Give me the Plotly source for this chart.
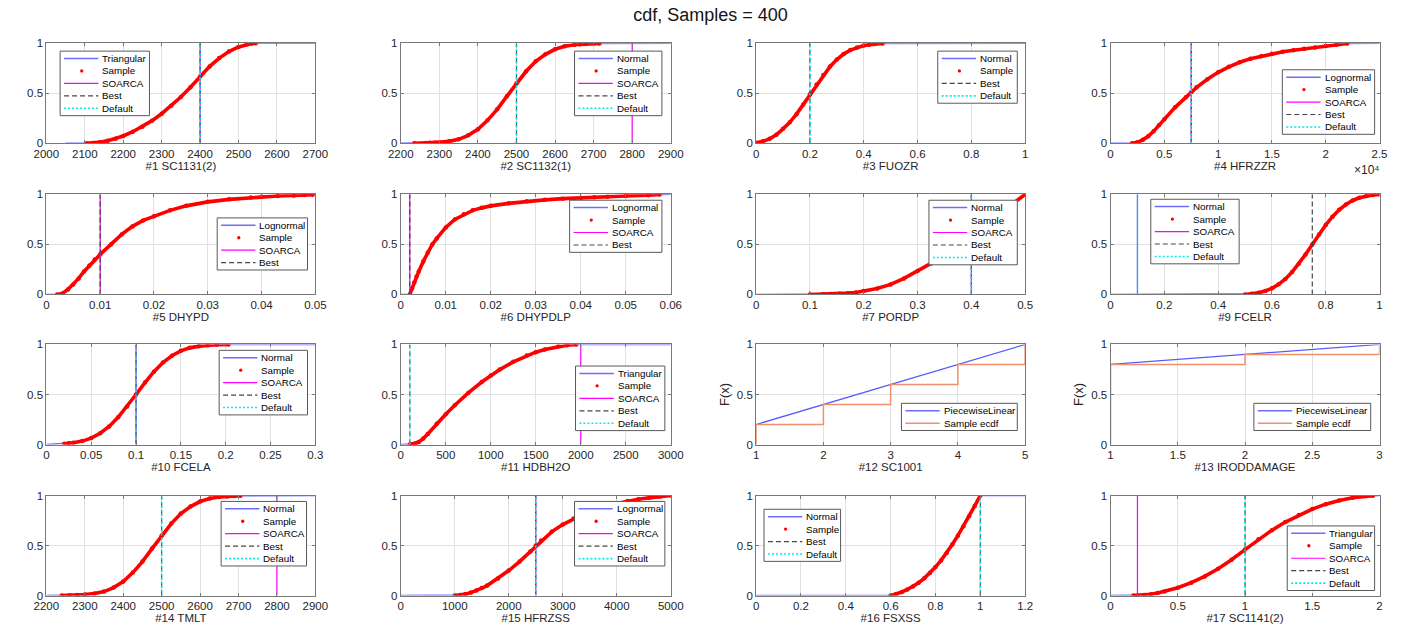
import plotly.graph_objects as go

W, H = 1421, 633

# ------------------------------------------------------------------ data
titles = ["#1 SC1131(2)", "#2 SC1132(1)", "#3 FUOZR", "#4 HFRZZR",
          "#5 DHYPD", "#6 DHYPDLP", "#7 PORDP", "#9 FCELR",
          "#10 FCELA", "#11 HDBH2O", "#12 SC1001", "#13 IRODDAMAGE",
          "#14 TMLT", "#15 HFRZSS", "#16 FSXSS", "#17 SC1141(2)"]
dist_names = ["Triangular", "Normal", "Normal", "Lognormal",
              "Lognormal", "Lognormal", "Normal", "Normal",
              "Normal", "Triangular", "PiecewiseLinear", "PiecewiseLinear",
              "Normal", "Lognormal", "Normal", "Triangular"]
x_min = [2000, 2200, 0, 0, 0, 0, 0, 0, 0, 0, 1, 1, 2200, 0, 0, 0]
x_max = [2700, 2900, 1, 25000, 0.05, 0.06, 0.5, 1, 0.3, 3000, 5, 3, 2900, 5000, 1.2, 2]
x_step = [100, 100, 0.2, 5000, 0.01, 0.01, 0.1, 0.2, 0.05, 500, 1, 0.5, 100, 1000, 0.2, 0.5]
dist_start = [2050, 2200, 0, 0, 0, 0, 0, 0, 0, 0, None, None, 2200, 0, 0, 0]

soarca = [2400, 2800, None, 7500, 0.01, 0.002, 0.4, 0.1, 0.1, 2000, None, None, 2800, 2500, None, 0.2]
best = [2400, 2500, 0.2, 7500, 0.01, 0.002, 0.4, 0.75, 0.1, 100, None, None, 2500, 2500, 1.0, 1.0]
default = [2400, 2500, 0.2, 7500, None, None, 0.4, 0.1, 0.1, 100, None, None, 2500, 2500, 1.0, 1.0]

y_ticks = [0, 0.5, 1]
y_ticktext = ["0", "0.5", "1"]
p4_ticks = [0, 5000, 10000, 15000, 20000, 25000]
p4_ticktext = ["0", "0.5", "1", "1.5", "2", "2.5"]
p4_exponent = "\u00d710\u2074"

p1_x = [2105, 2120, 2140, 2160, 2180, 2200, 2225, 2250, 2275, 2300, 2325, 2350, 2375, 2400,
        2425, 2450, 2475, 2500, 2520, 2535, 2545]
p1_F = [0.0, 0.003, 0.012, 0.027, 0.047, 0.074, 0.116, 0.167, 0.227, 0.296, 0.375, 0.463, 0.56, 0.667,
        0.769, 0.852, 0.917, 0.963, 0.987, 0.997, 1.0]

p2_x = [2235, 2265, 2275, 2290, 2300, 2325, 2350, 2375, 2400, 2425, 2450, 2475, 2500, 2525,
        2550, 2575, 2600, 2625, 2650, 2665, 2680, 2700, 2715]
p2_F = [0.001, 0.003, 0.005, 0.008, 0.011, 0.02, 0.04, 0.08, 0.14, 0.23, 0.34, 0.47, 0.60, 0.72,
        0.82, 0.89, 0.94, 0.97, 0.985, 0.99, 0.994, 0.997, 0.999]

p3_x = [0, 0.025, 0.05, 0.075, 0.1, 0.125, 0.15, 0.175, 0.2, 0.225, 0.25, 0.275, 0.3, 0.325,
        0.35, 0.375, 0.4, 0.42, 0.44, 0.47]
p3_F = [0.005, 0.02, 0.045, 0.085, 0.145, 0.21, 0.292, 0.387, 0.49, 0.589, 0.684, 0.768, 0.838, 0.892,
        0.932, 0.959, 0.977, 0.986, 0.992, 0.997]

p4_x = [2000, 2500, 3000, 3500, 4000, 4500, 5000, 6000, 7000, 7500, 8000, 9000, 10000, 11000,
        12000, 13000, 14000, 15000, 16000, 17000, 18000, 19000, 20000, 21000, 22000]
p4_F = [0.0, 0.01, 0.035, 0.07, 0.12, 0.18, 0.24, 0.36, 0.46, 0.51, 0.56, 0.64, 0.71, 0.765,
        0.81, 0.845, 0.87, 0.895, 0.915, 0.93, 0.945, 0.957, 0.972, 0.985, 0.997]

p5_x = [0.002, 0.003, 0.004, 0.005, 0.006, 0.007, 0.008, 0.009, 0.01, 0.012, 0.014, 0.016, 0.018,
        0.02, 0.023, 0.026, 0.03, 0.034, 0.038, 0.04, 0.043, 0.046, 0.048, 0.0495]
p5_F = [0.0, 0.01, 0.05, 0.1, 0.16, 0.23, 0.29, 0.35, 0.40, 0.5, 0.6, 0.68, 0.74,
        0.78, 0.84, 0.885, 0.925, 0.95, 0.968, 0.976, 0.983, 0.988, 0.993, 0.997]

p6_x = [0.002, 0.0025, 0.003, 0.0035, 0.004, 0.005, 0.006, 0.007, 0.008, 0.01, 0.012, 0.014, 0.016,
        0.018, 0.02, 0.024, 0.028, 0.032, 0.036, 0.04, 0.043, 0.046, 0.05, 0.055, 0.0575]
p6_F = [0.0, 0.06, 0.12, 0.18, 0.23, 0.33, 0.42, 0.5, 0.56, 0.67, 0.75, 0.8, 0.84,
        0.865, 0.885, 0.91, 0.93, 0.945, 0.957, 0.967, 0.972, 0.977, 0.984, 0.992, 0.998]

p7_x = [0.1, 0.125, 0.14, 0.155, 0.17, 0.185, 0.2, 0.225, 0.25, 0.275, 0.3, 0.325, 0.35, 0.375,
        0.4, 0.425, 0.45, 0.475, 0.5]
p7_F = [0.0, 0.003, 0.005, 0.008, 0.013, 0.02, 0.035, 0.06, 0.1, 0.16, 0.235, 0.31, 0.4, 0.5,
        0.6, 0.7, 0.8, 0.9, 1.0]

p9_x = [0.5, 0.525, 0.55, 0.575, 0.6, 0.625, 0.65, 0.675, 0.7, 0.725, 0.75, 0.775, 0.8, 0.825,
        0.85, 0.875, 0.9, 0.925, 0.95, 0.975, 1.0]
p9_F = [0.0, 0.006, 0.017, 0.034, 0.061, 0.101, 0.154, 0.223, 0.306, 0.4, 0.5, 0.6, 0.694, 0.777,
        0.846, 0.899, 0.939, 0.966, 0.983, 0.994, 1.0]

p10_x = [0.02, 0.025, 0.03, 0.04, 0.05, 0.06, 0.07, 0.08, 0.09, 0.1, 0.11, 0.12, 0.13, 0.14,
         0.15, 0.16, 0.17, 0.18, 0.19, 0.203]
p10_F = [0.008, 0.012, 0.017, 0.034, 0.064, 0.113, 0.181, 0.272, 0.381, 0.5, 0.619, 0.728, 0.819, 0.887,
         0.936, 0.966, 0.983, 0.992, 0.997, 0.999]

p11_x = [100, 125, 150, 175, 200, 250, 300, 400, 500, 600, 750, 900, 1000, 1100, 1250, 1400,
         1500, 1600, 1750, 1850, 1950]
p11_F = [0.0, 0.002, 0.007, 0.015, 0.026, 0.059, 0.105, 0.207, 0.303, 0.393, 0.516, 0.625, 0.69, 0.749,
         0.826, 0.889, 0.923, 0.95, 0.981, 0.993, 0.999]

p12_x = [1, 2, 3, 4, 5]
p12_F = [0.2, 0.4, 0.6, 0.8, 1.0]
p12_ecdf = [0.2, 0.4, 0.6, 0.8, 1.0]

p13_x = [1, 2, 3]
p13_F = [0.8, 0.9, 1.0]
p13_ecdf = [0.8, 0.9, 1.0]

p14_x = [2240, 2260, 2280, 2300, 2325, 2350, 2375, 2400, 2425, 2450, 2475, 2500, 2525, 2550,
         2575, 2600, 2625, 2650, 2670, 2690, 2705]
p14_F = [0.001, 0.003, 0.006, 0.011, 0.021, 0.04, 0.08, 0.14, 0.23, 0.34, 0.47, 0.6, 0.72, 0.82,
         0.89, 0.94, 0.97, 0.985, 0.991, 0.995, 0.998]

p15_x = [1000, 1100, 1200, 1300, 1400, 1500, 1600, 1800, 2000, 2200, 2400, 2500, 2600, 2800,
         3000, 3200, 3400, 3600, 3800, 4000, 4200, 4400, 4600, 4800, 5000]
p15_F = [0.0, 0.005, 0.015, 0.03, 0.05, 0.075, 0.1, 0.17, 0.25, 0.34, 0.44, 0.5, 0.55, 0.64,
         0.71, 0.77, 0.82, 0.86, 0.895, 0.92, 0.945, 0.962, 0.977, 0.99, 1.0]

p16_x = [0.6, 0.625, 0.65, 0.675, 0.7, 0.725, 0.75, 0.775, 0.8, 0.825, 0.85, 0.875, 0.9, 0.925,
         0.95, 0.975, 1.0]
p16_F = [0.0, 0.016, 0.036, 0.061, 0.092, 0.129, 0.173, 0.225, 0.285, 0.352, 0.427, 0.51, 0.599, 0.694,
         0.793, 0.896, 1.0]

p17_x = [0.17, 0.2, 0.25, 0.3, 0.35, 0.4, 0.5, 0.6, 0.7, 0.8, 0.9, 1.0, 1.1, 1.2, 1.3, 1.4,
         1.5, 1.6, 1.7, 1.8, 1.9, 1.95]
p17_F = [0.0, 0.002, 0.006, 0.014, 0.025, 0.04, 0.078, 0.129, 0.192, 0.269, 0.358, 0.46, 0.562, 0.654,
         0.735, 0.805, 0.865, 0.914, 0.951, 0.978, 0.995, 0.999]

samples = [(p1_x, p1_F), (p2_x, p2_F), (p3_x, p3_F), (p4_x, p4_F),
           (p5_x, p5_F), (p6_x, p6_F), (p7_x, p7_F), (p9_x, p9_F),
           (p10_x, p10_F), (p11_x, p11_F), (p12_x, p12_F), (p13_x, p13_F),
           (p14_x, p14_F), (p15_x, p15_F), (p16_x, p16_F), (p17_x, p17_F)]
ecdfs = {10: p12_ecdf, 11: p13_ecdf}

legend_items = [
    ["dist", "sample", "soarca", "best", "default"],
    ["dist", "sample", "soarca", "best", "default"],
    ["dist", "sample", "best", "default"],
    ["dist", "sample", "soarca", "best", "default"],
    ["dist", "sample", "soarca", "best"],
    ["dist", "sample", "soarca", "best"],
    ["dist", "sample", "soarca", "best", "default"],
    ["dist", "sample", "soarca", "best", "default"],
    ["dist", "sample", "soarca", "best", "default"],
    ["dist", "sample", "soarca", "best", "default"],
    ["dist", "ecdf"],
    ["dist", "ecdf"],
    ["dist", "sample", "soarca", "best", "default"],
    ["dist", "sample", "soarca", "best", "default"],
    ["dist", "sample", "best", "default"],
    ["dist", "sample", "soarca", "best", "default"],
]
item_labels = {"sample": "Sample", "soarca": "SOARCA", "best": "Best",
               "default": "Default", "ecdf": "Sample ecdf"}

# ------------------------------------------------------------------ layout / style
col_px = [(34, 308), (395, 670), (757, 1031), (1118, 1392)]
row_px = [(38, 140), (192, 294), (345, 447), (499, 601)]
legend_px = [(48, 46, 139), (572, 46, 661), (942, 46, 1023), (1293, 65, 1387),
             (208, 216, 300), (567, 198, 661), (933, 198, 1023), (1159, 197, 1249),
             (210, 351, 300), (573, 367, 664), (905, 405, 1023), (1264, 405, 1383),
             (212, 505, 299), (572, 505, 664), (765, 513, 843), (1298, 530, 1387)]

FONT = "Liberation Sans, Arial, Helvetica, sans-serif"
TXT = "rgb(38,38,38)"
AXC = "rgb(120,120,120)"
GRID = "rgb(225,225,225)"
BLUE = "rgb(110,110,255)"
RED = "rgb(255,0,0)"
MAG = "rgb(255,0,255)"
GRAY = "rgb(70,70,70)"
CYAN = "rgb(0,235,235)"
ORANGE = "rgb(240,145,110)"
styles = {
    "dist": dict(color=BLUE, width=1.5, dash="solid"),
    "soarca": dict(color=MAG, width=1.2, dash="solid"),
    "best": dict(color=GRAY, width=1.2, dash="5px,3px"),
    "default": dict(color=CYAN, width=1.6, dash="2px,2px"),
    "ecdf": dict(color=ORANGE, width=1.5, dash="solid"),
}

fig = go.Figure()
shapes = []
annotations = []


def px_x(p):
    return p / W


def px_y(p):
    return 1 - p / H


for i in range(16):
    r, c = divmod(i, 4)
    n = i + 1
    sfx = "" if n == 1 else str(n)
    xref, yref = "x" + sfx, "y" + sfx
    sx, sF = samples[i]

    if i in ecdfs:
        fig.add_trace(go.Scatter(x=sx, y=sF, mode="lines", xaxis=xref, yaxis=yref,
                                 line=dict(color="rgb(90,90,255)", width=1.3), showlegend=False))
        ex = [sx[0]] + list(sx)
        ey = [0] + list(ecdfs[i])
        fig.add_trace(go.Scatter(x=ex, y=ey, mode="lines", line_shape="hv", xaxis=xref, yaxis=yref,
                                 line=dict(color=ORANGE, width=1.5), showlegend=False))
    else:
        bx = [dist_start[i]] + list(sx) + [x_max[i]]
        by = [0] + list(sF) + [1]
        fig.add_trace(go.Scatter(x=bx, y=by, mode="lines", xaxis=xref, yaxis=yref,
                                 line=dict(color=BLUE, width=1.5), showlegend=False))
        fig.add_trace(go.Scatter(x=sx, y=sF, mode="lines+markers", xaxis=xref, yaxis=yref,
                                 line=dict(color=RED, width=3.6),
                                 marker=dict(color=RED, size=4.5), showlegend=False))
        for key, vals in (("soarca", soarca), ("best", best), ("default", default)):
            v = vals[i]
            if v is None:
                continue
            st = styles[key]
            fig.add_trace(go.Scatter(x=[v, v], y=[0, 1], mode="lines", xaxis=xref, yaxis=yref,
                                     line=dict(color=st["color"], width=st["width"], dash=st["dash"]),
                                     showlegend=False))

    c0, c1 = col_px[c]
    r0, r1 = row_px[r]
    xa = dict(domain=[c0 / W, c1 / W], anchor=yref, range=[x_min[i], x_max[i]],
              showgrid=True, gridcolor=GRID, gridwidth=1, zeroline=False,
              showline=True, linecolor=AXC, linewidth=1, mirror="ticks",
              ticks="inside", ticklen=3, tickcolor=AXC,
              tickfont=dict(family=FONT, size=11.5, color=TXT),
              title=dict(text=titles[i], font=dict(family=FONT, size=11.5, color=TXT), standoff=2))
    if i == 3:
        xa.update(tickmode="array", tickvals=p4_ticks, ticktext=p4_ticktext)
    else:
        xa.update(tick0=x_min[i], dtick=x_step[i])
    ya = dict(domain=[1 - r1 / H, 1 - r0 / H], anchor=xref, range=[0, 1],
              tickmode="array", tickvals=y_ticks, ticktext=y_ticktext,
              showgrid=True, gridcolor=GRID, gridwidth=1, zeroline=False,
              showline=True, linecolor=AXC, linewidth=1, mirror="ticks",
              ticks="inside", ticklen=3, tickcolor=AXC,
              tickfont=dict(family=FONT, size=11.5, color=TXT))
    if i in ecdfs:
        ya["title"] = dict(text="F(x)", font=dict(family=FONT, size=13, color=TXT), standoff=4)
    fig.layout["xaxis" + sfx] = xa
    fig.layout["yaxis" + sfx] = ya

    # legend box (drawn manually: MATLAB-style compact legend)
    left, top, right = legend_px[i]
    items = legend_items[i]
    step = 12.7
    height = 15 + (len(items) - 1) * step
    shapes.append(dict(type="rect", xref="paper", yref="paper",
                       x0=px_x(left), x1=px_x(right), y0=px_y(top + height), y1=px_y(top),
                       line=dict(color="rgb(90,90,90)", width=1), fillcolor="white", layer="above"))
    for k, kind in enumerate(items):
        yc = top + 7.5 + k * step
        if kind == "sample":
            cx = left + 22
            shapes.append(dict(type="circle", xref="paper", yref="paper",
                               x0=px_x(cx - 1.7), x1=px_x(cx + 1.7),
                               y0=px_y(yc + 1.7), y1=px_y(yc - 1.7),
                               fillcolor=RED, line=dict(width=0), layer="above"))
        else:
            st = styles[kind]
            shapes.append(dict(type="line", xref="paper", yref="paper",
                               x0=px_x(left + 4), x1=px_x(left + 39), y0=px_y(yc), y1=px_y(yc),
                               line=dict(color=st["color"], width=st["width"], dash=st["dash"]),
                               layer="above"))
        label = dist_names[i] if kind == "dist" else item_labels[kind]
        annotations.append(dict(text=label, xref="paper", yref="paper",
                                x=px_x(left + 42), y=px_y(yc), xanchor="left", yanchor="middle",
                                borderpad=0, showarrow=False,
                                font=dict(family=FONT, size=9.8, color="black")))

annotations.append(dict(text=p4_exponent, xref="paper", yref="paper",
                        x=px_x(1393), y=px_y(167), xanchor="right", yanchor="middle",
                        borderpad=0, showarrow=False, font=dict(family=FONT, size=12, color=TXT)))

fig.update_layout(
    width=W, height=H, autosize=False,
    margin=dict(l=0, r=0, t=0, b=0),
    paper_bgcolor="white", plot_bgcolor="white",
    title=dict(text="cdf, Samples = 400", x=0.5, xanchor="center", y=1 - 15 / H, yanchor="middle",
               font=dict(family=FONT, size=18, color="rgb(20,20,20)")),
    shapes=shapes, annotations=annotations, showlegend=False,
)

fig.write_html("out.html")
